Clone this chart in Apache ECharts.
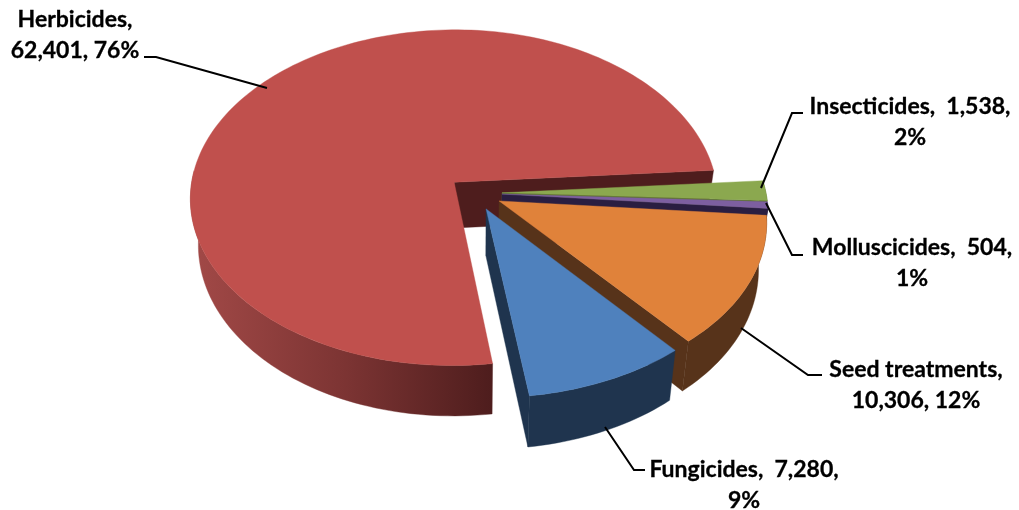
<!DOCTYPE html>
<html><head><meta charset="utf-8">
<style>html,body{margin:0;padding:0;background:#fff}#c{width:1019px;height:510px}</style>
<script src="https://cdn.jsdelivr.net/npm/echarts@6/dist/echarts.min.js"></script>
</head><body><div id="c"></div>
<script>
// Data: clockwise from the start angle, back-most slice first
const categories = ['Herbicides','Insecticides','Molluscicides','Seed treatments','Fungicides'];
const values = [62401,1538,504,10306,7280];
const labelTexts = [
  'Herbicides,\n62,401, 76%',
  'Insecticides,  1,538,\n2%',
  'Molluscicides,  504,\n1%',
  'Seed treatments,\n10,306, 12%',
  'Fungicides,  7,280,\n9%'
];
const topColors = ['#C0504D','#8BA84F','#7D5FA0','#E0823A','#4F81BD'];
const wallColors = ['#4E1D1D','#5A6E32','#2A1E41','#57331A','#1F344E'];

// Layout of the tilted pie
const CX=475, CY=193, R=264, K=0.638, P=0.0925, DEPTH=46, Q=0.028, EXPLODE=27, START=82;
const labelPos = [[75,35],[910,122],[912,263],[916,385],[744,485]];
const leaders = [
  [[144,57],[156,57],[267,88]],
  [[803,113],[792,113],[761,188]],
  [[803,255],[792,255],[766,203]],
  [[822,375],[808,375],[741,328]],
  [[645,470],[634,470],[605,427]]
];

const total = values.reduce((a,b)=>a+b,0);
const rad = d=>d*Math.PI/180;
function project(X,Y,z){
  const s = 1/(1-P*Y/R);
  const sx = X>0 ? Math.pow(s,1.25) : s;
  return [CX+X*sx*(1-Q*z), CY+K*Y*s+DEPTH*z*s];
}
function arc(a0,a1,off,z){
  const n=Math.max(2,Math.ceil(Math.abs(a1-a0)/1.5)), pts=[];
  for(let i=0;i<=n;i++){
    const a=rad(a0+(a1-a0)*i/n);
    pts.push(project(off[0]+R*Math.cos(a),off[1]+R*Math.sin(a),z));
  }
  return pts;
}
const herbWall = {type:'linear',x:200,y:0,x2:492,y2:0,global:true,colorStops:[
  {offset:0,color:'#A04846'},{offset:0.5,color:'#7C3433'},{offset:1,color:'#4E1D1D'}]};

function renderItem(params,api){
  const i=params.dataIndex;
  let sum=0; for(let j=0;j<i;j++) sum+=values[j];
  const a0=START+360*sum/total, a1=a0+360*api.value(0)/total, mid=rad((a0+a1)/2);
  const off=[EXPLODE*Math.cos(mid),EXPLODE*Math.sin(mid)];
  const apexT=project(off[0],off[1],0), apexB=project(off[0],off[1],1);
  const kids=[];
  const poly=(pts,fill)=>kids.push({type:'polygon',shape:{points:pts},
    style:{fill:fill,stroke:fill,lineWidth:0.4}});
  // end-edge wall (faces the viewer when its outward normal points forward)
  const endT=arc(a1,a1,off,0)[0], endB=arc(a1,a1,off,1)[0];
  if(Math.sin(rad(a1+90))>0) poly([apexT,endT,endB,apexB],wallColors[i]);
  // outer wall, only the part on the front half of the rim
  const segs=[[a0,a1],[a0-360,a1-360]];
  segs.forEach(([s,e])=>{
    const f0=Math.max(s,-4), f1=Math.min(e,184);
    if(f1>f0){
      const top=arc(f0,f1,off,0), bot=arc(f0,f1,off,1).reverse();
      poly(top.concat(bot), i===0?herbWall:wallColors[i]);
    }
  });
  // top face
  poly([apexT].concat(arc(a0,a1,off,0)),topColors[i]);
  return {type:'group',children:kids};
}

const graphics=[];
leaders.forEach(pts=>graphics.push({type:'polyline',shape:{points:pts},z:5,
  style:{stroke:'#000',lineWidth:2,fill:null}}));
labelTexts.forEach((t,i)=>graphics.push({type:'text',x:labelPos[i][0],y:labelPos[i][1],z:6,
  style:{text:t,font:'bold 23px Lato',fill:'#000',stroke:'#000',lineWidth:0.3,textAlign:'center',textVerticalAlign:'middle',lineHeight:31}}));

const chart=echarts.init(document.getElementById('c'),null,{renderer:'canvas'});
chart.setOption({
  animation:false,
  backgroundColor:'#fff',
  series:[{type:'custom',coordinateSystem:'none',renderItem:renderItem,
    data:categories.map((n,i)=>({name:n,value:[values[i]]})),
    encode:{value:0},silent:true}],
  graphic:{elements:graphics}
});
</script></body></html>
